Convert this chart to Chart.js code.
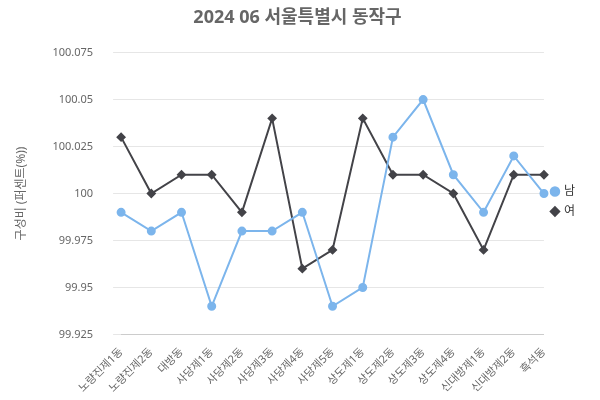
<!DOCTYPE html>
<html>
<head>
<meta charset="utf-8">
<script src="https://cdn.jsdelivr.net/npm/chart.js@4"></script>
<style>
  body { margin: 0; background: #fff; }
  #wrap { width: 600px; height: 400px; }
</style>
</head>
<body>
<div id="wrap"><canvas id="chart"></canvas></div>
<script>
const categories = ['노량진제1동', '노량진제2동', '대방동', '사당제1동', '사당제2동', '사당제3동', '사당제4동', '사당제5동', '상도제1동', '상도제2동', '상도제3동', '상도제4동', '신대방제1동', '신대방제2동', '흑석동'];
const maleValues = [99.99, 99.98, 99.99, 99.94, 99.98, 99.98, 99.99, 99.94, 99.95, 100.03, 100.05, 100.01, 99.99, 100.02, 100];
const femaleValues = [100.03, 100, 100.01, 100.01, 99.99, 100.04, 99.96, 99.97, 100.04, 100.01, 100.01, 100, 99.97, 100.01, 100.01];
const yTicks = [99.925, 99.95, 99.975, 100, 100.025, 100.05, 100.075];

Chart.defaults.font.family = "'Noto Sans', 'Noto Sans CJK KR', sans-serif";
Chart.defaults.color = '#666';

new Chart(document.getElementById('chart'), {
    type: 'line',
    data: {
        labels: categories,
        datasets: [{
            label: '남',
            data: maleValues,
            borderColor: '#7cb5ec',
            backgroundColor: '#7cb5ec',
            borderWidth: 2,
            pointStyle: 'circle',
            pointRadius: 3.5,
            tension: 0
        }, {
            label: '여',
            data: femaleValues,
            borderColor: '#434348',
            backgroundColor: '#434348',
            borderWidth: 2,
            pointStyle: 'rectRot',
            pointRadius: 3.5,
            tension: 0
        }]
    },
    options: {
        responsive: true,
        maintainAspectRatio: false,
        animation: false,
        layout: { padding: { left: 10, right: 15, top: 5, bottom: 2 } },
        plugins: {
            title: {
                display: true,
                text: '2024 06 서울특별시 동작구',
                font: { size: 18, weight: 'bold' },
                color: '#666',
                padding: { top: 2, bottom: 24 }
            },
            legend: {
                position: 'right',
                labels: { usePointStyle: true, boxWidth: 6, boxHeight: 6, padding: 8, font: { size: 12 }, color: '#333' }
            },
            tooltip: { enabled: false }
        },
        scales: {
            x: {
                grid: { display: false },
                border: { color: '#ccc' },
                ticks: { maxRotation: 45, minRotation: 45, font: { size: 11 }, color: '#666', autoSkip: false }
            },
            y: {
                min: 99.925,
                max: 100.075,
                afterBuildTicks: axis => { axis.ticks = yTicks.map(v => ({ value: v })); },
                grid: { color: '#e6e6e6' },
                border: { display: false },
                ticks: { font: { size: 11 }, color: '#666', padding: 20, callback: v => String(+v.toFixed(3)) },
                title: { display: true, text: '구성비 (퍼센트(%))', font: { size: 12 }, color: '#666' }
            }
        }
    }
});
</script>
</body>
</html>
